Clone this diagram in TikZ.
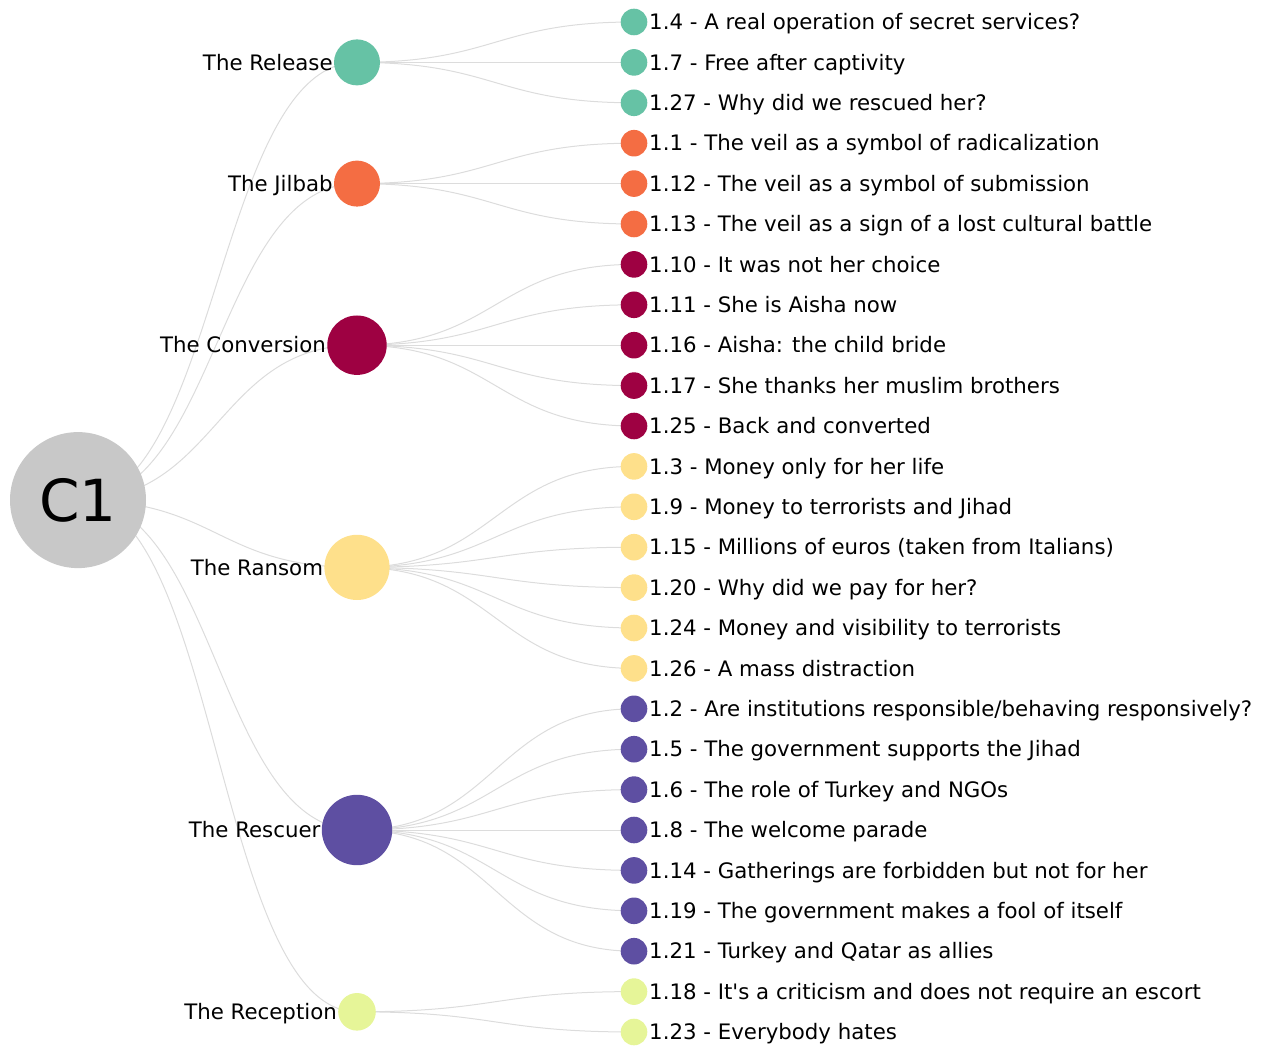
\documentclass[tikz,border=0pt]{standalone}
\usepackage{fontspec}
\setmainfont{DejaVu Sans}
\usetikzlibrary{calc,backgrounds}
\definecolor{cRel}{HTML}{66C2A5}
\definecolor{cJil}{HTML}{F46D43}
\definecolor{cCon}{HTML}{9E0142}
\definecolor{cRan}{HTML}{FEE08B}
\definecolor{cRes}{HTML}{5E4FA2}
\definecolor{cRec}{HTML}{E6F598}
\definecolor{cRoot}{HTML}{C8C8C8}
\definecolor{cEdge}{HTML}{DCDCDC}
\tikzset{
  dot/.style={circle, draw=none, inner sep=0pt},
  leafdot/.style={dot, minimum size=26.6pt},
  leaflbl/.style={anchor=base west, inner sep=1.5pt, yshift=-7.7pt, font=\fontsize{21.3}{25}\selectfont},
  catlbl/.style={anchor=base east, inner sep=1pt, yshift=-7.7pt, font=\fontsize{21.3}{25}\selectfont},
  edge/.style={draw=cEdge, line width=1pt},
}
\newcommand\hlink[2]{\draw[edge] let \p1=(#1.center), \p2=(#2.center) in (\p1) .. controls ({0.5*\x1+0.5*\x2},\y1) and ({0.5*\x1+0.5*\x2},\y2) .. (\p2);}
\newcommand\leafitem[5]{%
  \node[leafdot, fill=#3] (#1) at (634,#2) {};
  \node[leaflbl] (#1t) at (#1.east) {#4};
  \begin{scope}[on background layer]\hlink{#5}{#1}\end{scope}}
\newcommand\catitem[6]{%
  \node[dot, fill=#3, minimum size=#4] (#1) at (357,#2) {};
  \node[catlbl] (#1t) at (#1.west) {#5};
  \begin{scope}[on background layer]\hlink{#6}{#1}\end{scope}}
\begin{document}
\begin{tikzpicture}[x=1pt,y=-1pt]
\useasboundingbox (0,0) rectangle (1272,1048);
\node[dot, fill=cRoot, minimum size=136pt, font=\fontsize{58}{60}\selectfont] (root) at (78,500.1) {C1};
\catitem{rel}{62.4}{cRel}{46pt}{The Release}{root}
\catitem{jil}{183.6}{cJil}{46pt}{The Jilbab}{root}
\catitem{con}{345.2}{cCon}{59.4pt}{The Conversion}{root}
\catitem{ran}{567.4}{cRan}{65.2pt}{The Ransom}{root}
\catitem{res}{830.0}{cRes}{70.4pt}{The Rescuer}{root}
\catitem{rec}{1011.8}{cRec}{37.6pt}{The Reception}{root}
\leafitem{l14}{22.0}{cRel}{1.4 - A real operation of secret services?}{rel}
\leafitem{l17}{62.4}{cRel}{1.7 - Free after captivity}{rel}
\leafitem{l127}{102.8}{cRel}{1.27 - Why did we rescued her?}{rel}
\leafitem{l11}{143.2}{cJil}{1.1 - The veil as a symbol of radicalization}{jil}
\leafitem{l112}{183.6}{cJil}{1.12 - The veil as a symbol of submission}{jil}
\leafitem{l113}{224.0}{cJil}{1.13 - The veil as a sign of a lost cultural battle}{jil}
\leafitem{l110}{264.4}{cCon}{1.10 - It was not her choice}{con}
\leafitem{l111}{304.8}{cCon}{1.11 - She is Aisha now}{con}
\leafitem{l116}{345.2}{cCon}{1.16 - Aisha: the child bride}{con}
\leafitem{l117}{385.6}{cCon}{1.17 - She thanks her muslim brothers}{con}
\leafitem{l125}{426.0}{cCon}{1.25 - Back and converted}{con}
\leafitem{l13}{466.4}{cRan}{1.3 - Money only for her life}{ran}
\leafitem{l19}{506.8}{cRan}{1.9 - Money to terrorists and Jihad}{ran}
\leafitem{l115}{547.2}{cRan}{1.15 - Millions of euros (taken from Italians)}{ran}
\leafitem{l120}{587.6}{cRan}{1.20 - Why did we pay for her?}{ran}
\leafitem{l124}{628.0}{cRan}{1.24 - Money and visibility to terrorists}{ran}
\leafitem{l126}{668.4}{cRan}{1.26 - A mass distraction}{ran}
\leafitem{l12}{708.8}{cRes}{1.2 - Are institutions responsible/behaving responsively?}{res}
\leafitem{l15}{749.2}{cRes}{1.5 - The government supports the Jihad}{res}
\leafitem{l16}{789.6}{cRes}{1.6 - The role of Turkey and NGOs}{res}
\leafitem{l18}{830.0}{cRes}{1.8 - The welcome parade}{res}
\leafitem{l114}{870.4}{cRes}{1.14 - Gatherings are forbidden but not for her}{res}
\leafitem{l119}{910.8}{cRes}{1.19 - The government makes a fool of itself}{res}
\leafitem{l121}{951.2}{cRes}{1.21 - Turkey and Qatar as allies}{res}
\leafitem{l118}{991.6}{cRec}{1.18 - It\textquotesingle s a criticism and does not require an escort}{rec}
\leafitem{l123}{1032.0}{cRec}{1.23 - Everybody hates}{rec}
\end{tikzpicture}
\end{document}
